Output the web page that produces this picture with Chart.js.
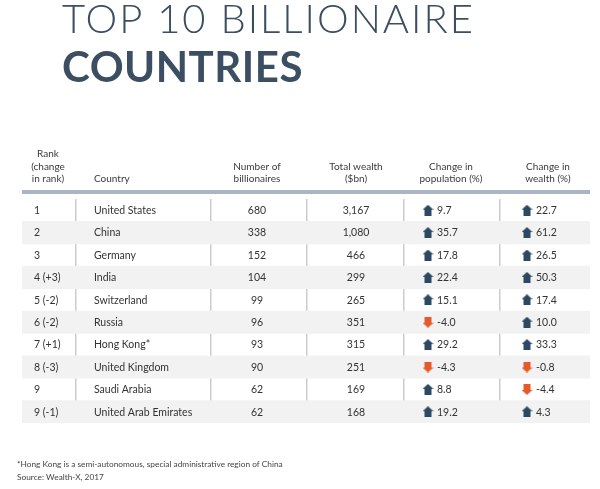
<!DOCTYPE html>
<html>
<head>
<meta charset="utf-8">
<script src="https://cdn.jsdelivr.net/npm/chart.js@4.4.1/dist/chart.umd.min.js"></script>
<style>
    html, body { margin: 0; padding: 0; background: #fff; }
    #wrap { width: 600px; height: 489px; position: relative; }
</style>
</head>
<body>
<div id="wrap"><canvas id="billionaireChart"></canvas></div>
<script>
// Table data
const titleLines = ['TOP 10 BILLIONAIRE', 'COUNTRIES'];
const headers = [
    ['Rank', '(change', 'in rank)'],
    ['Country'],
    ['Number of', 'billionaires'],
    ['Total wealth', '($bn)'],
    ['Change in', 'population (%)'],
    ['Change in', 'wealth (%)']
];
const ranks = ['1', '2', '3', '4 (+3)', '5 (-2)', '6 (-2)', '7 (+1)', '8 (-3)', '9', '9 (-1)'];
const countries = ['United States', 'China', 'Germany', 'India', 'Switzerland', 'Russia',
    'Hong Kong*', 'United Kingdom', 'Saudi Arabia', 'United Arab Emirates'];
const billionaires = [680, 338, 152, 104, 99, 96, 93, 90, 62, 62];
const totalWealth = [3167, 1080, 466, 299, 265, 351, 315, 251, 169, 168];
const popChange = [9.7, 35.7, 17.8, 22.4, 15.1, -4.0, 29.2, -4.3, 8.8, 19.2];
const wealthChange = [22.7, 61.2, 26.5, 50.3, 17.4, 10.0, 33.3, -0.8, -4.4, 4.3];
const footnotes = ['*Hong Kong is a semi-autonomous, special administrative region of China',
    'Source: Wealth-X, 2017'];

// Column layout in x-scale units (table width = 568)
const tableWidth = 568;
const colEdges = [0, 54, 189, 285, 382, 478, tableWidth];
const col = {
    rank: 12, rankHead: 26, country: 72, number: 235, wealth: 334,
    popArrow: 406, popText: 415, popHead: 429,
    wchArrow: 505, wchText: 514, wchHead: 526
};

const textColor = '#333333';
const titleColor = '#3b4e62';
const upColor = '#2c4862';
const downColor = '#e5592b';
const bodyFont = 'Lato, "DejaVu Sans", sans-serif';

// Arrow markers
function makeArrow(up) {
    const c = document.createElement('canvas');
    c.width = 11; c.height = 11;
    const g = c.getContext('2d');
    g.fillStyle = up ? upColor : downColor;
    g.beginPath();
    if (up) {
        g.moveTo(5.5, 0); g.lineTo(11, 5); g.lineTo(9, 5); g.lineTo(9, 11);
        g.lineTo(2, 11); g.lineTo(2, 5); g.lineTo(0, 5);
    } else {
        g.moveTo(2, 0); g.lineTo(9, 0); g.lineTo(9, 6); g.lineTo(11, 6);
        g.lineTo(5.5, 11); g.lineTo(0, 6); g.lineTo(2, 6);
    }
    g.closePath();
    g.fill();
    return c;
}
const upArrow = makeArrow(true);
const downArrow = makeArrow(false);

// Draws the title, headers, cell texts and footnote
const tableText = {
    id: 'tableText',
    afterDraw(chart) {
        const { ctx, scales: { x, y } } = chart;
        ctx.save();

        ctx.fillStyle = titleColor;
        ctx.textAlign = 'left';
        ctx.textBaseline = 'alphabetic';
        ctx.font = '300 40px Lato, sans-serif';
        ctx.letterSpacing = '2px';
        ctx.fillText(titleLines[0], 62, 33);
        ctx.font = '700 42px Lato, sans-serif';
        ctx.letterSpacing = '0.5px';
        ctx.fillText(titleLines[1], 62, 82);
        ctx.letterSpacing = '0px';

        // header rule
        ctx.fillStyle = '#a9b5c6';
        ctx.fillRect(x.left, 190, x.right - x.left, 4);

        // header labels
        ctx.fillStyle = '#3a3a3a';
        ctx.font = '10px ' + bodyFont;
        const headX = [col.rankHead, col.country, col.number, col.wealth, col.popHead, col.wchHead];
        headers.forEach((lines, k) => {
            ctx.textAlign = k === 1 ? 'left' : 'center';
            lines.forEach((line, j) => {
                const py = 182 - (lines.length - 1 - j) * 12.3;
                ctx.fillText(line, x.getPixelForValue(headX[k]), py);
            });
        });

        // cells
        ctx.fillStyle = textColor;
        ctx.font = '10.5px ' + bodyFont;
        ctx.textBaseline = 'middle';
        countries.forEach((name, i) => {
            const py = y.getPixelForValue(i) + 0.5;
            ctx.textAlign = 'left';
            ctx.fillText(ranks[i], x.getPixelForValue(col.rank), py);
            ctx.fillText(name, x.getPixelForValue(col.country), py);
            ctx.fillText(popChange[i].toFixed(1), x.getPixelForValue(col.popText), py);
            ctx.fillText(wealthChange[i].toFixed(1), x.getPixelForValue(col.wchText), py);
            ctx.textAlign = 'center';
            ctx.fillText(billionaires[i].toLocaleString('en-US'), x.getPixelForValue(col.number), py);
            ctx.fillText(totalWealth[i].toLocaleString('en-US'), x.getPixelForValue(col.wealth), py);
        });

        // footnotes
        ctx.textAlign = 'left';
        ctx.textBaseline = 'alphabetic';
        ctx.fillStyle = '#444444';
        ctx.font = '8.3px ' + bodyFont;
        ctx.fillText(footnotes[0], 17, 467);
        ctx.fillText(footnotes[1], 17, 480);

        ctx.restore();
    }
};

const ctx = document.getElementById('billionaireChart').getContext('2d');
const billionaireChart = new Chart(ctx, {
    type: 'bar',
    data: {
        labels: countries,
        datasets: [
            {
                // alternating row shading
                type: 'bar',
                indexAxis: 'y',
                data: countries.map((c, i) => (i % 2 === 1 ? [0, tableWidth] : null)),
                backgroundColor: '#f2f2f2',
                barPercentage: 1,
                categoryPercentage: 1,
                order: 2
            },
            {
                type: 'scatter',
                data: popChange.map((v, i) => ({ x: col.popArrow, y: countries[i] })),
                pointStyle: popChange.map(v => (v < 0 ? downArrow : upArrow)),
                order: 0
            },
            {
                type: 'scatter',
                data: wealthChange.map((v, i) => ({ x: col.wchArrow, y: countries[i] })),
                pointStyle: wealthChange.map(v => (v < 0 ? downArrow : upArrow)),
                order: 0
            }
        ]
    },
    options: {
        responsive: true,
        maintainAspectRatio: false,
        animation: false,
        events: [],
        layout: { padding: { left: 22, right: 10, top: 199, bottom: 66 } },
        plugins: { legend: { display: false }, tooltip: { enabled: false } },
        scales: {
            x: {
                type: 'linear',
                min: 0,
                max: tableWidth,
                offset: false,
                z: 1,
                afterBuildTicks: scale => {
                    scale.ticks = colEdges.slice(1, -1).map(v => ({ value: v }));
                },
                grid: { color: '#cccccc', lineWidth: 1.5, drawTicks: false, offset: false },
                border: { display: false },
                ticks: { display: false }
            },
            y: {
                type: 'category',
                offset: true,
                display: false
            }
        }
    },
    plugins: [tableText]
});
</script>
</body>
</html>
